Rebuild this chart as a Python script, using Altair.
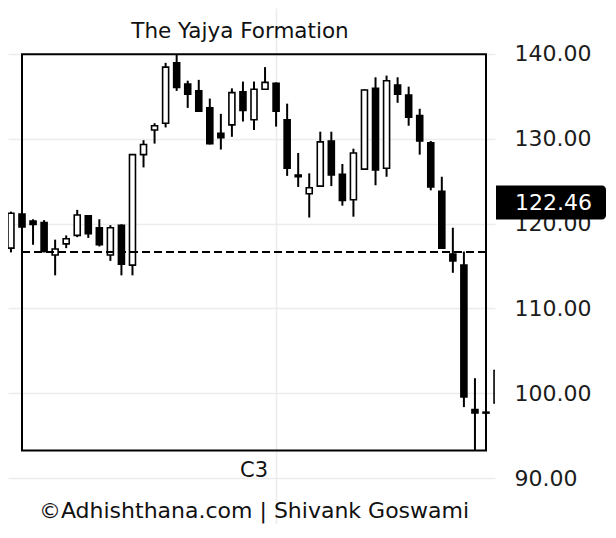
import altair as alt
import pandas as pd

# ---- data ----
idx = list(range(46))
opens = [119.0, 117.1, 121.1, 120.3, 120.1, 116.3, 117.6, 118.6, 120.9, 119.5,
         116.3, 119.8, 115.1, 128.1, 131.0, 131.8, 138.9, 136.4, 135.6, 133.6,
         130.6, 131.6, 135.5, 132.2, 135.8, 136.5, 132.2, 125.7, 123.5, 124.4,
         129.7, 125.8, 122.8, 126.4, 135.9, 126.5, 136.3, 135.1, 132.7, 129.5,
         123.8, 116.4, 115.1, 98.1, 97.8, 98.9]
highs = [119.3, 121.4, 121.3, 120.5, 120.4, 118.1, 118.6, 121.6, 120.9, 120.5,
         119.8, 119.9, 128.1, 129.8, 131.8, 138.9, 139.9, 136.8, 136.9, 134.7,
         132.9, 135.9, 136.7, 136.7, 138.4, 136.6, 134.1, 128.3, 125.9, 130.8,
         130.8, 127.0, 128.8, 135.8, 137.2, 137.4, 137.2, 136.1, 133.5, 129.7,
         125.5, 119.5, 116.7, 101.8, 100.0, 102.8]
lows = [117.4, 116.6, 119.4, 117.5, 116.6, 113.9, 117.1, 118.4, 118.3, 117.3,
        115.6, 113.9, 113.9, 126.6, 129.4, 131.3, 135.6, 133.6, 133.2, 129.3,
        128.7, 130.2, 132.0, 131.0, 135.8, 131.4, 125.6, 124.3, 120.7, 124.3,
        124.4, 122.1, 120.8, 126.3, 124.5, 125.5, 134.2, 131.5, 128.1, 123.9,
        117.1, 114.2, 98.4, 93.3, 95.5, 98.9]
closes = [117.7, 121.2, 119.6, 119.9, 116.7, 117.0, 118.2, 121.0, 118.8, 117.5,
          119.5, 115.2, 128.1, 129.3, 131.5, 138.4, 136.0, 135.2, 133.2, 129.4,
          130.1, 135.4, 133.3, 135.8, 136.6, 133.2, 126.5, 125.5, 124.2, 129.6,
          125.7, 122.7, 128.3, 135.7, 126.3, 136.8, 135.2, 132.5, 129.7, 124.3,
          117.1, 115.6, 99.6, 97.7, 97.7, 102.7]

support_level = 116.65
price_tag = 122.46
tick_values = [90, 100, 110, 120, 130, 140]
title_text = "The Yajya Formation"
cycle_label = "C3"
footer_text = "\u00a9Adhishthana.com | Shivank Goswami"
box_start, box_end = 2, 44
cycle_label_at = 23
grid_at = 25

df = pd.DataFrame(dict(i=idx, open=opens, high=highs, low=lows, close=closes))
df["dir"] = ["up" if c >= o else "down" for o, c in zip(opens, closes)]

win = df[(df.i >= box_start) & (df.i <= box_end)]
box_df = pd.DataFrame([{"x": box_start, "x2": box_end,
                        "top": win.high.max(), "bottom": win.low.min()}])
level_df = pd.DataFrame([{"x": box_start, "x2": box_end, "y": support_level}])
tag_df = pd.DataFrame([{"top": price_tag + 2, "bot": price_tag - 2,
                        "v": price_tag, "label": f"{price_tag:.2f}"}])
label_df = pd.DataFrame([{"x": cycle_label_at, "t": cycle_label}])

W, H = 487, 516
FONT = "DejaVu Sans"
xs = alt.Scale(domain=[0.733, 44.815], nice=False, zero=False, padding=0)
ys = alt.Scale(domain=[84.647, 145.353], nice=False, zero=False, padding=0)

x_enc = alt.X("i:Q", scale=xs,
              axis=alt.Axis(values=[grid_at], labels=False, ticks=False, domain=False,
                            title=None, grid=True, gridColor="#ececec", gridWidth=1.5))
y_axis = alt.Axis(orient="right", values=tick_values, format=".2f", ticks=False,
                  domain=False, title=None, grid=True, gridColor="#ececec",
                  gridWidth=1.5, labelFont=FONT, labelFontSize=22,
                  labelColor="#1c1c1c", labelPadding=19)

base = alt.Chart(df)

wicks = base.mark_rule(color="black", strokeWidth=2, clip=True).encode(
    x=x_enc,
    y=alt.Y("low:Q", scale=ys, axis=y_axis),
    y2="high:Q",
)

bodies = base.mark_bar(stroke="black", strokeWidth=1.6, size=6, clip=True).encode(
    x=alt.X("i:Q", scale=xs),
    y=alt.Y("open:Q", scale=ys),
    y2="close:Q",
    fill=alt.Fill("dir:N", scale=alt.Scale(domain=["up", "down"], range=["white", "black"]),
                  legend=None),
)

box = alt.Chart(box_df).mark_rect(fill="transparent", stroke="black", strokeWidth=2).encode(
    x=alt.X("x:Q", scale=xs), x2="x2:Q",
    y=alt.Y("top:Q", scale=ys), y2="bottom:Q",
)

level = alt.Chart(level_df).mark_rule(color="black", strokeWidth=2, strokeDash=[8, 4]).encode(
    x=alt.X("x:Q", scale=xs), x2="x2:Q",
    y=alt.Y("y:Q", scale=ys),
)

tag_rect = alt.Chart(tag_df).mark_rect(color="black", cornerRadiusTopRight=4,
                                        cornerRadiusBottomRight=4).encode(
    x=alt.value(488), x2=alt.value(598),
    y=alt.Y("top:Q", scale=ys), y2="bot:Q",
)
tag_text = alt.Chart(tag_df).mark_text(color="white", font=FONT, fontSize=22,
                                        align="left", baseline="middle").encode(
    x=alt.value(507),
    y=alt.Y("v:Q", scale=ys),
    text="label:N",
)

title = alt.Chart(pd.DataFrame([{"t": title_text}])).mark_text(
    font=FONT, fontSize=21.5, color="#111111", align="center", baseline="alphabetic"
).encode(x=alt.value(232), y=alt.value(30), text="t:N")

c3 = alt.Chart(label_df).mark_text(
    font=FONT, fontSize=21, color="#111111", align="center", baseline="alphabetic"
).encode(x=alt.X("x:Q", scale=xs), y=alt.value(469), text="t:N")

footer = alt.Chart(pd.DataFrame([{"t": footer_text}])).mark_text(
    font=FONT, fontSize=22, color="#111111", align="center", baseline="alphabetic"
).encode(x=alt.value(246), y=alt.value(510), text="t:N")

chart = alt.layer(wicks, bodies, box, level, tag_rect, tag_text, title, c3, footer).properties(
    width=W, height=H, padding=0, background="white"
).configure_view(strokeWidth=0)

chart.save("out.html", embed_options={"renderer": "svg", "actions": False})
